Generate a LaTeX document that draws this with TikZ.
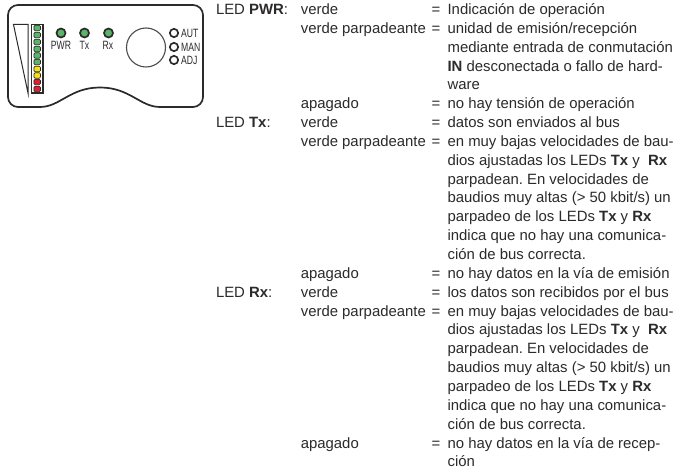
\documentclass[tikz,border=0pt]{standalone}
\usepackage{fontspec}
\setmainfont{Liberation Sans}
\definecolor{ledg}{RGB}{90,180,105}
\definecolor{ledy}{RGB}{250,225,20}
\definecolor{ledr}{RGB}{225,30,45}
\definecolor{ink}{RGB}{45,42,42}
\tikzset{
  txt/.style={anchor=base west,inner sep=0pt,outer sep=0pt,text=ink,font=\fontsize{14.9pt}{17pt}\selectfont\frenchspacing},
  lab/.style={anchor=base,inner sep=0pt,text=ink,xscale=.72,font=\fontsize{12pt}{13pt}\selectfont},
  labw/.style={lab,anchor=base west},
  bigled/.style={circle,draw=ink,line width=1.7pt,fill=ledg,minimum size=9pt,inner sep=0pt},
  ring/.style={circle,draw=ink,line width=1.7pt,fill=white,minimum size=8.3pt,inner sep=0pt},
  barled/.style={draw=ink,line width=.6pt,rounded corners=1.2pt,minimum width=6.5pt,minimum height=5.5pt,inner sep=0pt}
}
\newcommand{\tl}[3]{\pgfmathsetmacro{\yb}{14.5+18.85*#2}\node[txt] at (#1,\yb) {#3};}
\begin{document}
\begin{tikzpicture}[x=1pt,y=-1pt]
\useasboundingbox (0,0) rectangle (677,470);
\fill[white] (0,0) rectangle (677,470);
% housing
\draw[ink,line width=1.7pt,rounded corners=10pt] (40,107) -- (8,107) -- (8,5) -- (203,5) -- (203,107) -- (160,107);
\draw[ink,line width=1.7pt] (40,107) .. controls (60,107) and (70,87.5) .. (100,87.5) .. controls (130,87.5) and (140,107) .. (160,107);
% wedge
\draw[ink,line width=1pt] (13.5,24.5) -- (28,24.5) -- (28,93) -- cycle;
% bar
\draw[ink,line width=1.3pt] (31.5,24.5) rectangle (43,93);
\foreach \i/\y/\c in {a/28/ledg,b/35/ledg,c/42/ledg,d/49/ledg,e/55.5/ledg,f/62/ledg,g/69/ledy,h/75.5/ledy,i/82/ledr,j/89/ledr}
  \node[barled,fill=\c] (bar\i) at (37.2,\y) {};
% LEDs
\node[bigled] (pwr) at (61,33) {};
\node[bigled] (tx) at (84.5,33) {};
\node[bigled] (rx) at (108.5,33) {};
\node[lab] (lpwr) at (61,50) {PWR};
\node[lab] (ltx) at (84.5,50) {Tx};
\node[lab] (lrx) at (108,50) {Rx};
\node[circle,draw=ink!85,line width=1.1pt,minimum size=39pt,inner sep=0pt] (knob) at (146,47.5) {};
\node[ring] (aut) at (174,33) {};
\node[ring] (man) at (174,47) {};
\node[ring] (adj) at (174,60) {};
\node[labw] (laut) at (181,38) {AUT};
\node[labw] (lman) at (181,52) {MAN};
\node[labw] (ladj) at (181,65) {ADJ};
% text
\def\ca{447.6}\def\cb{300.8}\def\ce{431.5}\def\cl{216}
\tl{\cl}{0}{LED \textbf{PWR}:}\tl{\cb}{0}{verde}\tl{\ce}{0}{=}\tl{\ca}{0}{Indicación de operación}
\foreach \n/\b/\c in {
 1/verde parpadeante/{unidad de emisión/recepción},
 5/apagado/{no hay tensión de operación},
 7/verde parpadeante/{en muy bajas velocidades de bau-},
 14/apagado/{no hay datos en la vía de emisión},
 16/verde parpadeante/{en muy bajas velocidades de bau-},
 23/apagado/{no hay datos en la vía de recep-}}
 {\tl{\cb}{\n}{\b}\tl{\ce}{\n}{=}\tl{\ca}{\n}{\c}}
\foreach \n/\a/\c in {
 6/{LED \textbf{Tx}:}/{datos son enviados al bus},
 15/{LED \textbf{Rx}:}/{los datos son recibidos por el bus}}
 {\tl{\cl}{\n}{\a}\tl{\cb}{\n}{verde}\tl{\ce}{\n}{=}\tl{\ca}{\n}{\c}}
\foreach \n/\c in {
 2/{mediante entrada de conmutación},
 3/{\textbf{IN} desconectada o fallo de hard-},
 4/{ware},
 8/{dios ajustadas los LEDs \textbf{Tx} y \ \textbf{Rx}},
 9/{parpadean. En velocidades de},
 10/{baudios muy altas (> 50 kbit/s) un},
 11/{parpadeo de los LEDs \textbf{Tx} y \textbf{Rx}},
 12/{indica que no hay una comunica-},
 13/{ción de bus correcta.},
 17/{dios ajustadas los LEDs \textbf{Tx} y \ \textbf{Rx}},
 18/{parpadean. En velocidades de},
 19/{baudios muy altas (> 50 kbit/s) un},
 20/{parpadeo de los LEDs \textbf{Tx} y \textbf{Rx}},
 21/{indica que no hay una comunica-},
 22/{ción de bus correcta.},
 24/{ción}}
 {\tl{\ca}{\n}{\c}}
\end{tikzpicture}
\end{document}
